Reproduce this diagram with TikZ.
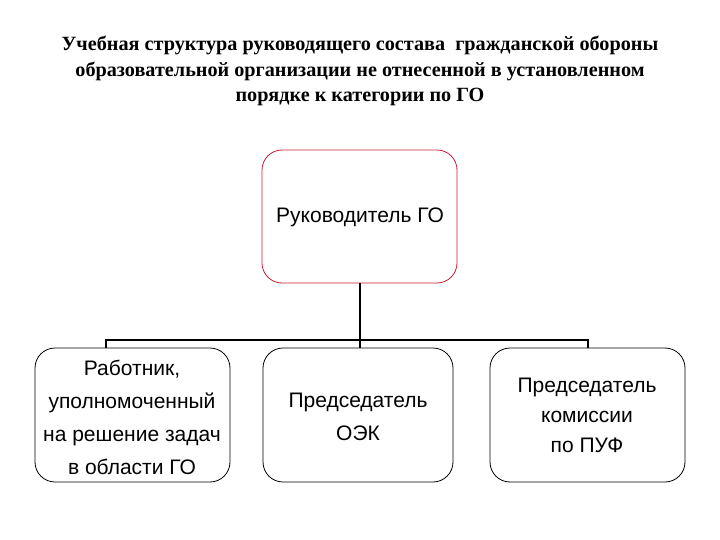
\documentclass[tikz,border=0pt]{standalone}
\usepackage{fontspec}
\setmainfont{Liberation Sans}
\newfontfamily\titlefont{Liberation Serif}
\definecolor{boxred}{RGB}{200,30,50}
\begin{document}
\begin{tikzpicture}[x=1pt,y=-1pt,
  box/.style={draw=black,line width=0.8pt,rounded corners=20pt,fill=white},
  topbox/.style={draw=boxred,line width=0.8pt,rounded corners=20pt,fill=white},
  txt/.style={font=\fontsize{21}{33}\selectfont,align=center},
  conn/.style={line width=2.4pt}]
\useasboundingbox (0,0) rectangle (720,540);
\node[font=\titlefont\bfseries\fontsize{20.2}{25.5}\selectfont,align=center] (title) at (360,71)
 {Учебная структура руководящего состава \ гражданской обороны\\
  образовательной организации не отнесенной в установленном\\
  порядке к категории по ГО};
\draw[topbox] (262,150) rectangle (457,283);
\node[txt] (top) at (360,217) {Руководитель ГО};
\coordinate (topb) at (360,283);
\draw[box] (35,348) rectangle (230,482);
\draw[box] (263,348) rectangle (453,482);
\draw[box] (490,348) rectangle (685,482);
\node[txt] (b1) at (132,417) {Работник,\\уполномоченный\\на решение задач\\в области ГО};
\node[txt] (b2) at (358,417) {Председатель\\ОЭК};
\node[txt,font=\fontsize{21}{30}\selectfont] (b3) at (587,415) {Председатель\\комиссии\\по ПУФ};
\coordinate (j) at (360,340);
\coordinate (l) at (106,340);
\coordinate (r) at (588,340);
\coordinate (b1t) at (106,348);
\coordinate (b2t) at (360,348);
\coordinate (b3t) at (588,348);
\draw[conn] (topb) -- (j);
\draw[conn] (b1t) -- (l) -- (r) -- (b3t);
\draw[conn] (j) -- (b2t);
\end{tikzpicture}
\end{document}
